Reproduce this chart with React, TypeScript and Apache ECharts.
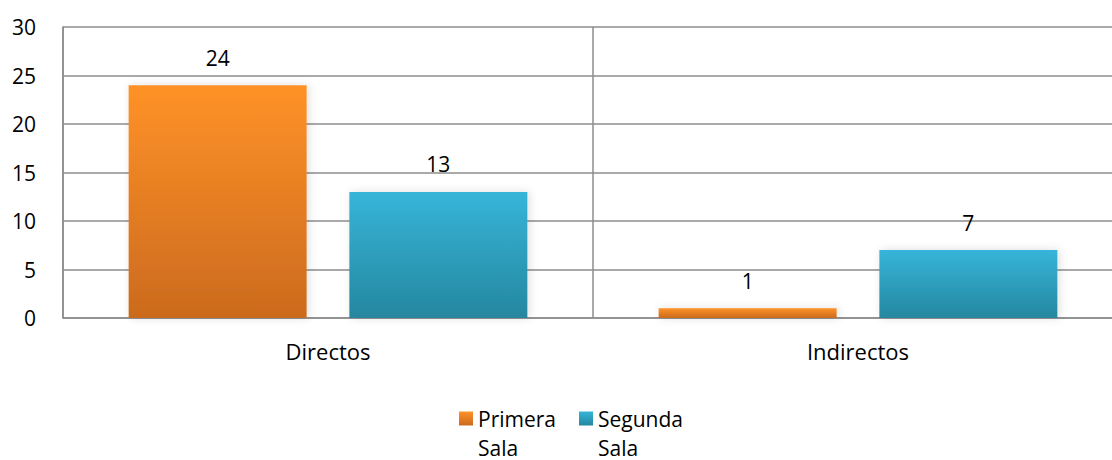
import React, { useEffect, useRef } from "react";
import * as echarts from "echarts";

const categories = ["Directos", "Indirectos"];
const primeraSala = [24, 1];
const segundaSala = [13, 7];
const seriesNames = ["Primera Sala", "Segunda Sala"];

const FONT = "Open Sans";

export default function App() {
  const ref = useRef<HTMLDivElement>(null);
  useEffect(() => {
    if (!ref.current) return;
    const chart = echarts.init(ref.current, undefined, { renderer: "svg" });
    const grad = (top: string, bottom: string) =>
      new echarts.graphic.LinearGradient(0, 0, 0, 1, [
        { offset: 0, color: top },
        { offset: 1, color: bottom },
      ]);
    const label = {
      show: true,
      position: "top" as const,
      distance: 17,
      color: "#000",
      fontFamily: FONT,
      fontSize: 21,
    };
    const shadow = {
      shadowColor: "rgba(0,0,0,0.13)",
      shadowBlur: 8,
      shadowOffsetX: 2,
      shadowOffsetY: 0,
    };
    chart.setOption({
      animation: false,
      backgroundColor: "#fff",
      grid: {
        left: 63,
        width: 1060,
        top: 27,
        bottom: 142,
        containLabel: false,
        outerBoundsMode: "none",
      },
      legend: {
        top: 375,
        left: 459,
        padding: 0,
        itemWidth: 14,
        itemHeight: 14,
        itemGap: 23,
        icon: "rect",
        formatter: (n: string) => " \n" + n.replace(" ", "\n"),
        textStyle: {
          fontFamily: FONT,
          fontSize: 21,
          color: "#000",
          lineHeight: 29,
        },
        data: seriesNames,
      },
      xAxis: {
        type: "category",
        data: categories,
        boundaryGap: true,
        axisLine: { show: true, lineStyle: { color: "#8c8c8c", width: 1.5 } },
        axisTick: { show: false },
        splitLine: { show: true, lineStyle: { color: "#8c8c8c", width: 1.5 } },
        axisLabel: { color: "#000", fontFamily: FONT, fontSize: 22, margin: 22 },
      },
      yAxis: {
        type: "value",
        min: 0,
        max: 30,
        interval: 5,
        axisLine: { show: true, lineStyle: { color: "#8c8c8c", width: 1.5 } },
        axisTick: { show: false },
        splitLine: { show: true, lineStyle: { color: "#8c8c8c", width: 1.5 } },
        axisLabel: { color: "#000", fontFamily: FONT, fontSize: 21, margin: 27 },
      },
      series: [
        {
          name: seriesNames[0],
          type: "bar",
          data: primeraSala,
          barWidth: 178,
          barGap: "24%",
          itemStyle: { color: grad("#ff9228", "#cb6a1e"), ...shadow },
          label,
        },
        {
          name: seriesNames[1],
          type: "bar",
          data: segundaSala,
          barWidth: 178,
          barGap: "24%",
          itemStyle: { color: grad("#36b5d9", "#25879f"), ...shadow },
          label,
        },
      ],
    });
    return () => chart.dispose();
  }, []);
  return (
    <div
      ref={ref}
      style={{ position: "fixed", left: 0, top: 0, width: 1112, height: 460 }}
    />
  );
}
